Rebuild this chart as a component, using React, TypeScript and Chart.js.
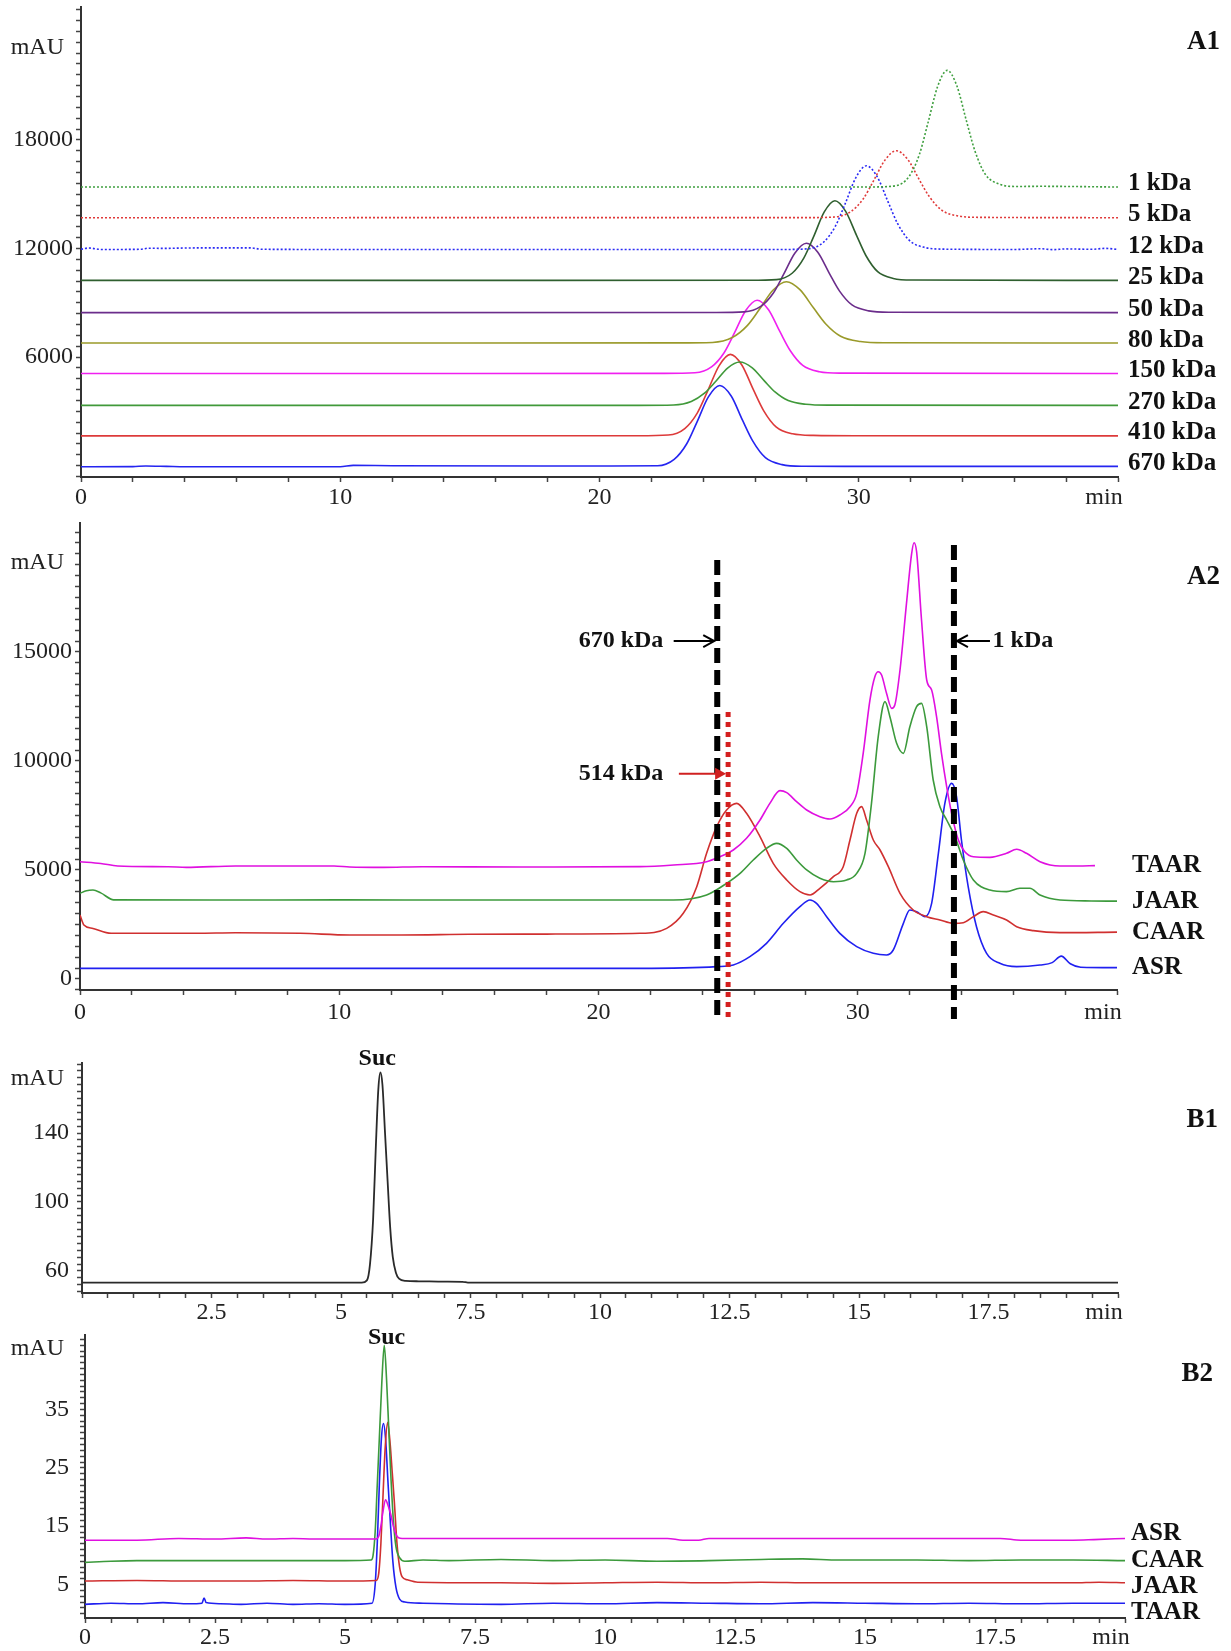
import React, { useEffect, useRef } from 'react';
import { Chart, registerables } from 'chart.js';

Chart.register(...registerables);

type Pt = [number, number];

// ================= Panel A1 : SEC standards (min, mAU) =================
const a1Names = ['1 kDa', '5 kDa', '12 kDa', '25 kDa', '50 kDa', '80 kDa', '150 kDa', '270 kDa', '410 kDa', '670 kDa'];
const a1Colors = ['#3f9f3f', '#e03a3a', '#2a2af5', '#2f5f2f', '#6b2d8b', '#9a9a2a', '#f020f0', '#40993a', '#dd3a3a', '#2525f0'];
const a1Dotted = [true, true, true, false, false, false, false, false, false, false];

const a1_1kDa: Pt[] = [[0, 15400], [30.5, 15405], [31.4, 15465], [31.94, 15981], [32.34, 17206], [32.67, 18948], [33.04, 20947], [33.41, 21850], [33.78, 21012], [34.15, 19077], [34.48, 17400], [34.88, 16110], [35.42, 15561], [36.09, 15432], [37, 15440], [40, 15400]];
const a1_5kDa: Pt[] = [[0, 13706], [28, 13710], [29.05, 13743], [29.69, 14039], [30.17, 14742], [30.57, 15741], [31.01, 16888], [31.45, 17406], [31.89, 16925], [32.33, 15815], [32.73, 14853], [33.21, 14113], [33.85, 13799], [34.65, 13725], [40, 13706]];
const a1_12kDa: Pt[] = [[0, 11960], [0.3, 12030], [0.8, 11950], [2.3, 11960], [2.6, 12020], [3.2, 12010], [4, 12030], [5, 12040], [6.5, 12040], [7, 11960], [10, 11950], [27, 11950], [28.05, 11990], [28.65, 12361], [29.1, 13240], [29.48, 14491], [29.89, 15926], [30.3, 16574], [30.71, 15972], [31.13, 14583], [31.5, 13379], [31.95, 12453], [32.55, 12060], [33.3, 11967], [36, 11950], [37, 11990], [37.5, 11940], [38, 11980], [39, 11960], [39.5, 12010], [40, 11950]];
const a1_25kDa: Pt[] = [[0, 10239], [25.8, 10245], [26.83, 10283], [27.43, 10635], [27.88, 11471], [28.26, 12659], [28.67, 14023], [29.08, 14639], [29.49, 14067], [29.91, 12747], [30.28, 11603], [30.73, 10723], [31.33, 10349], [32.08, 10261], [40, 10239]];
const a1_50kDa: Pt[] = [[0, 8461], [24.5, 8465], [25.58, 8499], [26.22, 8806], [26.7, 9533], [27.1, 10568], [27.54, 11755], [27.98, 12291], [28.42, 11793], [28.86, 10644], [29.26, 9648], [29.74, 8882], [30.38, 8557], [31.18, 8480], [40, 8461]];
const a1_80kDa: Pt[] = [[0, 6778], [23, 6785], [24.36, 6812], [25.12, 7083], [25.69, 7727], [26.17, 8643], [26.69, 9693], [27.21, 10168], [27.73, 9727], [28.26, 8710], [28.73, 7829], [29.3, 7151], [30.06, 6863], [31.01, 6795], [40, 6778]];
const a1_150kDa: Pt[] = [[0, 5094], [22.5, 5100], [23.68, 5135], [24.32, 5459], [24.8, 6228], [25.2, 7322], [25.64, 8577], [26.08, 9144], [26.52, 8618], [26.96, 7403], [27.36, 6350], [27.84, 5540], [28.48, 5195], [29.28, 5114], [40, 5094]];
const a1_270kDa: Pt[] = [[0, 3333], [21.5, 3335], [22.86, 3357], [23.54, 3549], [24.05, 4005], [24.48, 4653], [24.94, 5397], [25.41, 5733], [25.88, 5421], [26.35, 4701], [26.77, 4077], [27.28, 3597], [27.96, 3393], [28.81, 3345], [40, 3333]];
const a1_410kDa: Pt[] = [[0, 1650], [21.5, 1655], [22.65, 1695], [23.29, 2055], [23.77, 2910], [24.17, 4125], [24.61, 5520], [25.05, 6150], [25.49, 5565], [25.93, 4215], [26.33, 3045], [26.81, 2145], [27.45, 1763], [28.25, 1673], [30, 1655], [40, 1650]];
const a1_670kDa: Pt[] = [[0, -60], [2, -50], [2.5, -20], [3.3, -40], [4, -60], [10, -60], [10.5, 20], [12, 0], [20, -20], [22.24, -5], [22.88, 350], [23.36, 1200], [23.76, 2410], [24.2, 3800], [24.64, 4430], [25.08, 3850], [25.52, 2500], [25.92, 1340], [26.4, 440], [27.04, 60], [27.84, -30], [30, -40], [40, -40]];
const a1Series = [a1_1kDa, a1_5kDa, a1_12kDa, a1_25kDa, a1_50kDa, a1_80kDa, a1_150kDa, a1_270kDa, a1_410kDa, a1_670kDa];
const a1XLabels = [0, 10, 20, 30];
const a1YLabels = [6000, 12000, 18000];

// ================= Panel A2 : samples =================
const a2Names = ['TAAR', 'JAAR', 'CAAR', 'ASR'];
const a2Colors = ['#e010e0', '#3c9a3c', '#d03030', '#2020f0'];
const a2_TAAR: Pt[] = [[0, 5380], [0.8, 5300], [1.45, 5185], [3.4, 5150], [4.1, 5120], [6, 5185], [9.8, 5185], [10.4, 5140], [11.7, 5120], [13.2, 5150], [17, 5140], [21.6, 5153], [22.9, 5230], [24.17, 5380], [24.69, 5611], [25.2, 5917], [25.71, 6452], [26.23, 7293], [26.61, 8058], [27.0, 8639], [27.26, 8547], [27.64, 8134], [28.03, 7752], [28.54, 7446], [28.93, 7339], [29.31, 7522], [29.7, 7905], [29.96, 8516], [30.21, 10351], [30.47, 12797], [30.66, 13868], [30.79, 14097], [30.92, 13944], [31.11, 13103], [31.31, 12415], [31.43, 12568], [31.63, 14174], [31.88, 17232], [32.08, 19525], [32.17, 20014], [32.27, 19601], [32.46, 16467], [32.66, 13715], [32.85, 13256], [33.04, 12033], [33.23, 10351], [33.43, 8822], [33.62, 7599], [33.88, 6376], [34.13, 5841], [34.46, 5611], [35.1, 5581], [35.74, 5765], [36.13, 5948], [36.51, 5765], [37.03, 5382], [37.8, 5183], [38.5, 5180], [39.15, 5200]];
const a2_JAAR: Pt[] = [[0, 3930], [0.25, 4050], [0.5, 4080], [0.8, 3950], [1.3, 3630], [5, 3620], [10, 3630], [15, 3620], [21.6, 3624], [22.89, 3624], [24.17, 3853], [24.94, 4388], [25.46, 4847], [25.97, 5458], [26.48, 5993], [26.87, 6223], [27.26, 5993], [27.64, 5458], [28.03, 5000], [28.54, 4617], [29.06, 4464], [29.57, 4541], [29.96, 4847], [30.28, 5764], [30.53, 8058], [30.79, 11116], [31.05, 12721], [31.24, 12033], [31.5, 10810], [31.76, 10351], [32.01, 11574], [32.27, 12492], [32.46, 12645], [32.66, 11574], [32.91, 9128], [33.17, 7905], [33.43, 7293], [33.75, 6529], [34.07, 5458], [34.46, 4541], [35.1, 4082], [35.74, 4006], [36.25, 4159], [36.64, 4159], [37.03, 3853], [37.8, 3624], [39, 3580], [40, 3570]];
const a2_CAAR: Pt[] = [[0, 2935], [0.15, 2480], [0.5, 2320], [1.2, 2095], [4.5, 2095], [6, 2120], [8.5, 2095], [10.4, 2020], [12.4, 2018], [15, 2050], [18, 2060], [21.6, 2095], [22.63, 2324], [23.27, 3012], [23.79, 4235], [24.17, 5764], [24.56, 6987], [24.94, 7752], [25.33, 8058], [25.71, 7599], [26.23, 6529], [26.74, 5305], [27.26, 4541], [27.77, 4006], [28.16, 3853], [28.54, 4159], [29.06, 4694], [29.44, 5152], [29.7, 6376], [29.96, 7599], [30.15, 7905], [30.34, 7293], [30.6, 6376], [30.86, 5917], [31.18, 5152], [31.63, 3930], [32.14, 3165], [32.66, 2859], [33.17, 2706], [33.68, 2553], [34.07, 2584], [34.46, 2859], [34.84, 3088], [35.23, 2935], [35.74, 2706], [36.13, 2400], [36.77, 2217], [37.8, 2125], [40, 2150]];
const a2_ASR: Pt[] = [[0, 489], [10, 489], [21.6, 489], [24.56, 566], [25.2, 642], [25.84, 1024], [26.48, 1636], [27.13, 2553], [27.77, 3318], [28.16, 3624], [28.41, 3470], [28.8, 2859], [29.31, 2095], [29.96, 1483], [30.6, 1177], [31.11, 1100], [31.37, 1330], [31.76, 2553], [32.01, 3165], [32.27, 3088], [32.59, 2859], [32.85, 3470], [33.11, 5764], [33.36, 8058], [33.62, 8975], [33.81, 8364], [34.0, 6376], [34.26, 4235], [34.58, 2400], [34.97, 1177], [35.48, 718], [36.13, 566], [37.03, 642], [37.5, 750], [37.85, 1050], [38.2, 700], [38.6, 540], [40, 520]];
const a2Series = [a2_TAAR, a2_JAAR, a2_CAAR, a2_ASR];
const a2XLabels = [0, 10, 20, 30];
const a2YLabels = [0, 5000, 10000, 15000];
// reference markers (elution time, min)
const a2Marker670 = 24.58;
const a2Marker1 = 33.71;
const a2Marker514 = 25.0;

// ================= Panel B1 : sucrose standard =================
const b1Suc: Pt[] = [[0, 53.2], [2, 53.2], [5.4, 53.2], [5.5, 54.5], [5.56, 64], [5.62, 90], [5.67, 130], [5.72, 165], [5.76, 175.1], [5.8, 168], [5.85, 140], [5.9, 112], [5.95, 85], [6.0, 68], [6.06, 59], [6.12, 55.5], [6.25, 54.2], [6.5, 54.0], [7.0, 53.8], [7.35, 53.7], [7.45, 53.2], [20, 53.2]];
const b1XLabels = [2.5, 5, 7.5, 10, 12.5, 15, 17.5];
const b1YLabels = [60, 100, 140];

// ================= Panel B2 : samples =================
const b2Names = ['ASR', 'CAAR', 'JAAR', 'TAAR'];
const b2Colors = ['#e010e0', '#3c9a3c', '#d03030', '#2020f0'];
const b2_ASR: Pt[] = [[0, 12.6], [1, 12.6], [1.8, 12.9], [2.5, 12.8], [3.1, 13.0], [3.5, 12.8], [4.0, 12.9], [4.4, 12.8], [5, 12.8], [5.6, 12.8], [5.65, 13.3], [5.69, 15], [5.73, 17.5], [5.78, 19.5], [5.83, 18.5], [5.88, 17], [5.93, 15], [5.98, 13.6], [6.03, 13.0], [6.1, 12.9], [8, 12.9], [11.2, 12.9], [11.5, 12.6], [11.8, 12.6], [12, 12.9], [17.6, 12.9], [18, 12.6], [19, 12.6], [19.4, 12.7], [20, 12.9]];
const b2_CAAR: Pt[] = [[0, 8.8], [0.5, 9.0], [1, 9.1], [3, 9.1], [5, 9.1], [5.5, 9.2], [5.54, 10], [5.58, 14], [5.62, 22], [5.66, 30], [5.71, 40], [5.755, 46], [5.8, 40], [5.84, 32], [5.88, 24], [5.93, 16], [5.98, 11.5], [6.05, 9.6], [6.15, 9.0], [6.5, 9.2], [7, 9.1], [8, 9.3], [9, 9.1], [10, 9.2], [11, 9.0], [12, 9.1], [13, 9.3], [13.8, 9.4], [14.5, 9.2], [16, 9.2], [17, 9.1], [18, 9.2], [19, 9.2], [20, 9.1]];
const b2_JAAR: Pt[] = [[0, 5.6], [1, 5.7], [2, 5.6], [3, 5.6], [4, 5.7], [5, 5.6], [5.6, 5.7], [5.65, 7], [5.69, 12], [5.73, 20], [5.77, 28], [5.82, 32.8], [5.86, 30], [5.91, 24], [5.95, 19], [6.0, 12], [6.05, 8], [6.1, 6.3], [6.2, 5.8], [6.4, 5.4], [8, 5.3], [9, 5.2], [10, 5.3], [11, 5.4], [12, 5.3], [13, 5.4], [14, 5.3], [15, 5.3], [17, 5.3], [19, 5.3], [19.5, 5.4], [20, 5.3]];
const b2_TAAR: Pt[] = [[0, 1.6], [0.5, 1.8], [1, 1.7], [1.5, 1.9], [2, 1.7], [2.25, 1.8], [2.29, 2.7], [2.33, 1.9], [2.6, 1.7], [3, 1.6], [3.5, 1.8], [4, 1.6], [4.5, 1.7], [5, 1.6], [5.52, 1.8], [5.58, 5], [5.62, 12], [5.66, 22], [5.7, 30], [5.74, 32.6], [5.78, 30], [5.83, 22], [5.87, 16], [5.92, 9], [5.98, 4.5], [6.05, 2.5], [6.15, 2.0], [6.5, 1.8], [7, 1.7], [8, 1.6], [9, 1.8], [10, 1.7], [11, 1.9], [12, 1.8], [13, 1.7], [14, 1.9], [15, 1.8], [16, 1.7], [17, 1.8], [18, 1.7], [19, 1.8], [20, 1.8]];
const b2Series = [b2_ASR, b2_CAAR, b2_JAAR, b2_TAAR];
const b2XLabels = [0, 2.5, 5, 7.5, 10, 12.5, 15, 17.5];
const b2YLabels = [5, 15, 25, 35];

// ================= rendering =================
const PAGE_W = 1231;
const PAGE_H = 1651;
const X_BOX = 30;
const SERIF = '"Liberation Serif", "Times New Roman", Times, serif';
const REG = (n: number) => `${n}px ${SERIF}`;
const BOLD = (n: number) => `bold ${n}px ${SERIF}`;
const AXIS = '#333';

interface Series { data: Pt[]; color: string; dash?: number[]; width?: number }
interface AxisCfg { min: number; max: number; step: number; labels: number[]; pad: number }
interface Panel {
  area: { l: number; r: number; t: number; b: number };
  x: AxisCfg;
  y: AxisCfg;
  series: Series[];
  draw: (c: any) => void;
}

const near = (v: number, arr: number[]) => arr.some((a) => Math.abs(a - v) < 1e-6);

// tick marks at every multiple of the step inside the axis range
function stepTicks(min: number, max: number, step: number) {
  const out: { value: number }[] = [];
  for (let k = Math.ceil(min / step - 1e-9); k * step <= max + 1e-9; k++) {
    out.push({ value: Math.round(k * step * 1e6) / 1e6 });
  }
  return out;
}

function text(ctx: CanvasRenderingContext2D, s: string, x: number, y: number, font: string, align: CanvasTextAlign = 'left', color = '#111') {
  ctx.save();
  ctx.font = font;
  ctx.fillStyle = color;
  ctx.textAlign = align;
  ctx.textBaseline = 'middle';
  ctx.fillText(s, x, y);
  ctx.restore();
}

function arrow(ctx: CanvasRenderingContext2D, x0: number, x1: number, y: number, color: string, filled: boolean) {
  ctx.save();
  ctx.strokeStyle = color;
  ctx.fillStyle = color;
  ctx.lineWidth = 2;
  const d = Math.sign(x1 - x0);
  ctx.beginPath();
  ctx.moveTo(x0, y);
  ctx.lineTo(x1 - d * (filled ? 6 : 1), y);
  ctx.stroke();
  ctx.beginPath();
  ctx.moveTo(x1 - d * 11, y - 6);
  ctx.lineTo(x1, y);
  ctx.lineTo(x1 - d * 11, y + 6);
  if (filled) {
    ctx.closePath();
    ctx.fill();
  } else {
    ctx.stroke();
  }
  ctx.restore();
}

function vline(ctx: CanvasRenderingContext2D, x: number, y0: number, y1: number, color: string, width: number, dash: number[]) {
  ctx.save();
  ctx.strokeStyle = color;
  ctx.lineWidth = width;
  ctx.setLineDash(dash);
  ctx.beginPath();
  ctx.moveTo(x, y0);
  ctx.lineTo(x, y1);
  ctx.stroke();
  ctx.restore();
}

function frameText(c: any, p: Panel, panelLabel: string, panelX: number, panelY: number, mauY: number) {
  const a = c.chartArea;
  const ctx = c.ctx as CanvasRenderingContext2D;
  text(ctx, 'mAU', 64, mauY, REG(24), 'right', '#222');
  text(ctx, 'min', a.right - 14, a.bottom + 5 + p.x.pad + 14.4, REG(24), 'center', '#222');
  text(ctx, panelLabel, panelX, panelY, BOLD(27), 'right');
}

function build(canvas: HTMLCanvasElement, p: Panel) {
  const tickFont = { family: SERIF, size: 24 };
  const fmt = (v: number) => String(Math.round(v * 1000) / 1000);
  return new Chart(canvas, {
    type: 'line',
    data: {
      datasets: p.series.map((s) => ({
        data: s.data.map(([x, y]) => ({ x, y })),
        borderColor: s.color,
        borderWidth: s.width ?? 1.6,
        borderDash: s.dash ?? [],
        pointRadius: 0,
        fill: false,
        cubicInterpolationMode: 'monotone',
      })),
    },
    options: {
      responsive: false,
      animation: false,
      devicePixelRatio: 1,
      events: [],
      layout: { padding: { left: 0, top: p.area.t, right: PAGE_W - p.area.r, bottom: PAGE_H - p.area.b - X_BOX } },
      plugins: { legend: { display: false }, tooltip: { enabled: false }, title: { display: false } },
      scales: {
        x: {
          type: 'linear',
          min: p.x.min,
          max: p.x.max,
          afterBuildTicks: (s: any) => {
            s.ticks = stepTicks(p.x.min, p.x.max, p.x.step);
          },
          ticks: {
            autoSkip: false,
            maxRotation: 0,
            minRotation: 0,
            padding: p.x.pad,
            color: '#222',
            font: tickFont,
            callback: (v: any) => (near(Number(v), p.x.labels) ? fmt(Number(v)) : ''),
          },
          grid: { drawOnChartArea: false, drawTicks: true, tickLength: 5, tickColor: '#444', tickWidth: 1.5 },
          border: { display: true, color: AXIS, width: 2 },
          afterFit: (s: any) => {
            s.height = X_BOX;
            s.paddingLeft = 0;
            s.paddingRight = 0;
            s.paddingTop = 0;
            s.paddingBottom = 0;
          },
        },
        y: {
          type: 'linear',
          min: p.y.min,
          max: p.y.max,
          afterBuildTicks: (s: any) => {
            s.ticks = stepTicks(p.y.min, p.y.max, p.y.step);
          },
          ticks: {
            autoSkip: false,
            padding: p.y.pad,
            color: '#222',
            font: tickFont,
            callback: (v: any) => (near(Number(v), p.y.labels) ? fmt(Number(v)) : ''),
          },
          grid: { drawOnChartArea: false, drawTicks: true, tickLength: 5, tickColor: '#444', tickWidth: 1.5 },
          border: { display: true, color: AXIS, width: 2 },
          afterFit: (s: any) => {
            s.width = p.area.l;
            s.paddingLeft = 0;
            s.paddingRight = 0;
            s.paddingTop = 0;
            s.paddingBottom = 0;
          },
        },
      },
    },
    plugins: [{ id: 'annot', afterDraw: (c: any) => p.draw(c) }],
  } as any);
}

const panelA1: Panel = {
  area: { l: 81, r: 1118, t: 7, b: 477 },
  x: { min: 0, max: 40, step: 2, labels: a1XLabels, pad: 1 },
  y: { min: -625, max: 25350, step: 600, labels: a1YLabels, pad: 3 },
  series: a1Series.map((d, i) => ({ data: d, color: a1Colors[i], dash: a1Dotted[i] ? [2, 2] : [], width: 1.6 })),
  draw: (c) => {
    const ctx = c.ctx as CanvasRenderingContext2D;
    const ys = c.scales.y;
    frameText(c, panelA1, 'A1', 1220, 42, 48);
    a1Series.forEach((d, i) => {
      const y = ys.getPixelForValue(d[d.length - 1][1]) - 3;
      text(ctx, a1Names[i], c.chartArea.right + 10, y, BOLD(25), 'left');
    });
  },
};

const panelA2: Panel = {
  area: { l: 80, r: 1117, t: 523, b: 990 },
  x: { min: 0, max: 40, step: 2, labels: a2XLabels, pad: 3 },
  y: { min: -505, max: 20917, step: 500, labels: a2YLabels, pad: 3 },
  series: a2Series.map((d, i) => ({ data: d, color: a2Colors[i], width: 1.6 })),
  draw: (c) => {
    const ctx = c.ctx as CanvasRenderingContext2D;
    const xs = c.scales.x;
    const ys = c.scales.y;
    const a = c.chartArea;
    frameText(c, panelA2, 'A2', 1220, 577, 563);
    a2Series.forEach((d, i) => {
      const y = ys.getPixelForValue(d[d.length - 1][1]);
      text(ctx, a2Names[i], a.right + 15, y, BOLD(25), 'left');
    });
    const bottom = a.bottom + 29;
    const x670 = xs.getPixelForValue(a2Marker670);
    const x1 = xs.getPixelForValue(a2Marker1);
    const x514 = xs.getPixelForValue(a2Marker514);
    vline(ctx, x670, ys.getPixelForValue(19220), bottom, '#000', 6, [15, 7]);
    vline(ctx, x1, ys.getPixelForValue(19908), bottom, '#000', 6, [15, 7]);
    vline(ctx, x514, ys.getPixelForValue(12247), bottom, '#d41f1f', 5, [5, 5]);
    const y670 = ys.getPixelForValue(15500);
    const y514 = ys.getPixelForValue(9420);
    text(ctx, '670 kDa', xs.getPixelForValue(22.5), y670, BOLD(24), 'right');
    arrow(ctx, xs.getPixelForValue(22.9), x670 - 3, y670, '#000', false);
    text(ctx, '1 kDa', xs.getPixelForValue(35.2), y670, BOLD(24), 'left');
    arrow(ctx, xs.getPixelForValue(35.1), x1 + 3, y670, '#000', false);
    text(ctx, '514 kDa', xs.getPixelForValue(22.5), y514, BOLD(24), 'right');
    arrow(ctx, xs.getPixelForValue(23.1), x514 - 2, y514, '#d02020', true);
  },
};

const panelB1: Panel = {
  area: { l: 82, r: 1118, t: 1063, b: 1293 },
  x: { min: 0, max: 20, step: 0.5, labels: b1XLabels, pad: 0 },
  y: { min: 47.2, max: 180.6, step: 4, labels: b1YLabels, pad: 8 },
  series: [{ data: b1Suc, color: '#2a2a2a', width: 1.8 }],
  draw: (c) => {
    const ctx = c.ctx as CanvasRenderingContext2D;
    const xs = c.scales.x;
    const ys = c.scales.y;
    frameText(c, panelB1, 'B1', 1218, 1120, 1079);
    const peak = b1Suc.reduce((m, p) => (p[1] > m[1] ? p : m), b1Suc[0]);
    text(ctx, 'Suc', xs.getPixelForValue(5.7), ys.getPixelForValue(peak[1]) - 14, BOLD(24), 'center');
  },
};

const panelB2: Panel = {
  area: { l: 85, r: 1125, t: 1335, b: 1618 },
  x: { min: 0, max: 20, step: 0.5, labels: b2XLabels, pad: 0 },
  y: { min: -0.74, max: 47.77, step: 1, labels: b2YLabels, pad: 11 },
  series: b2Series.map((d, i) => ({ data: d, color: b2Colors[i], width: 1.6 })),
  draw: (c) => {
    const ctx = c.ctx as CanvasRenderingContext2D;
    const xs = c.scales.x;
    const ys = c.scales.y;
    const a = c.chartArea;
    frameText(c, panelB2, 'B2', 1213, 1374, 1349);
    b2Names.forEach((n, i) => {
      text(ctx, n, a.right + 6, a.bottom - 84 + i * 26.3, BOLD(25), 'left');
    });
    const top = Math.max(...b2Series.map((d) => Math.max(...d.map((p) => p[1]))));
    text(ctx, 'Suc', xs.getPixelForValue(5.8), ys.getPixelForValue(top) - 8, BOLD(24), 'center');
  },
};

export default function App() {
  const r1 = useRef<HTMLCanvasElement>(null);
  const r2 = useRef<HTMLCanvasElement>(null);
  const r3 = useRef<HTMLCanvasElement>(null);
  const r4 = useRef<HTMLCanvasElement>(null);

  useEffect(() => {
    const charts = [
      build(r1.current!, panelA1),
      build(r2.current!, panelA2),
      build(r3.current!, panelB1),
      build(r4.current!, panelB2),
    ];
    return () => charts.forEach((c) => c.destroy());
  }, []);

  const cs: React.CSSProperties = { position: 'absolute', left: 0, top: 0, width: PAGE_W, height: PAGE_H };
  return (
    <div style={{ position: 'absolute', left: 0, top: 0, width: PAGE_W, height: PAGE_H, background: '#fff', overflow: 'hidden' }}>
      <canvas ref={r1} width={PAGE_W} height={PAGE_H} style={cs} />
      <canvas ref={r2} width={PAGE_W} height={PAGE_H} style={cs} />
      <canvas ref={r3} width={PAGE_W} height={PAGE_H} style={cs} />
      <canvas ref={r4} width={PAGE_W} height={PAGE_H} style={cs} />
    </div>
  );
}
